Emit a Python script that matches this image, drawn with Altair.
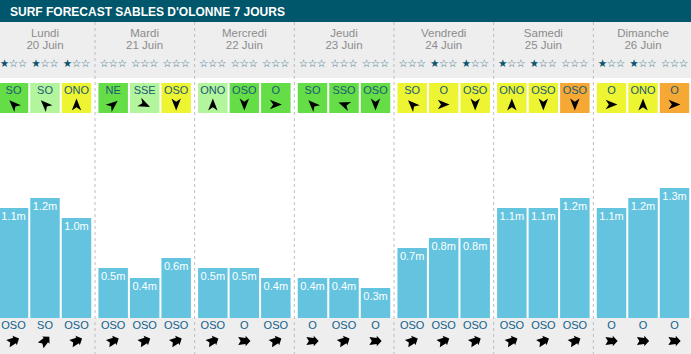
import altair as alt
import pandas as pd

# ---------------- data ----------------
title = "SURF FORECAST SABLES D'OLONNE 7 JOURS"
days = ["Lundi", "Mardi", "Mercredi", "Jeudi", "Vendredi", "Samedi", "Dimanche"]
dates = ["20 Juin", "21 Juin", "22 Juin", "23 Juin", "24 Juin", "25 Juin", "26 Juin"]

heights = [1.1, 1.2, 1.0, 0.5, 0.4, 0.6, 0.5, 0.5, 0.4, 0.4, 0.4, 0.3,
           0.7, 0.8, 0.8, 1.1, 1.1, 1.2, 1.1, 1.2, 1.3]
swell_dir = ["OSO", "SO", "OSO", "OSO", "OSO", "OSO", "OSO", "O", "OSO",
             "O", "OSO", "O", "OSO", "OSO", "OSO", "OSO", "OSO", "OSO", "O", "O", "O"]
wind_dir = ["SO", "SO", "ONO", "NE", "SSE", "OSO", "ONO", "OSO", "O",
            "SO", "SSO", "OSO", "SO", "O", "OSO", "ONO", "OSO", "OSO", "O", "ONO", "O"]
wind_level = ["fort", "moyen", "faible", "fort", "moyen", "faible", "moyen", "fort", "fort",
              "fort", "fort", "fort", "faible", "faible", "faible", "faible", "faible", "mauvais",
              "faible", "faible", "mauvais"]
stars = [1, 1, 1, 0, 0, 0, 0, 0, 0, 0, 0, 0, 0, 1, 1, 1, 1, 0, 1, 1, 0]

# ---------------- styling / layout ----------------
W, H = 691, 354
DAY_STEP, SLOT_STEP, FIRST = 99.67, 31.5, 13.5
FONT = "Liberation Sans"
level_colors = {"fort": "#64dd46", "moyen": "#b3f59d", "faible": "#edf533", "mauvais": "#f5a833"}
# arrow rotation (clockwise, arrow glyph initially pointing right)
wind_angle = {"O": 0, "OSO": 90, "ONO": 270, "SO": 225, "SSO": 200, "NE": 320, "SSE": 25}
swell_angle = {"O": 0, "OSO": 335, "SO": 315}

WIND_ARROW = "M 1 0 L -1 -0.8 L -0.45 0 L -1 0.8 Z"
SWELL_ARROW = "M 1 0 L 0.2 -0.85 L 0.2 -0.5 L -1 -0.65 L -0.6 0 L -1 0.65 L 0.2 0.5 L 0.2 0.85 Z"

rows = []
for i in range(21):
    d, k = divmod(i, 3)
    rows.append(dict(
        px=FIRST + DAY_STEP * d + SLOT_STEP * k,
        h=heights[i], base=0.0, label=f"{heights[i]:.1f}m",
        swell=swell_dir[i], sang=swell_angle[swell_dir[i]],
        wind=wind_dir[i], wang=wind_angle[wind_dir[i]],
        level=wind_level[i], color=level_colors[wind_level[i]],
    ))
slots = pd.DataFrame(rows)
slots["x1"] = slots["px"] - 14.75
slots["x2"] = slots["px"] + 14.75

star_rows = []
for i in range(21):
    d, k = divmod(i, 3)
    c = FIRST + DAY_STEP * d + SLOT_STEP * k
    for j in range(3):
        filled = j < stars[i]
        star_rows.append(dict(px=c + (j - 1) * 9, g="★" if filled else "☆",
                              col="#0b5570" if filled else "#2f6d86"))
star_df = pd.DataFrame(star_rows)

day_df = pd.DataFrame(dict(px=[FIRST + SLOT_STEP + DAY_STEP * d for d in range(7)],
                           day=days, date=dates))
sep_df = pd.DataFrame(dict(px=[95 + DAY_STEP * (d - 1) for d in range(1, 7)]))
one = pd.DataFrame({"a": [0]})

xscale = alt.Scale(domain=[0, W], nice=False, zero=False, padding=0)
yscale = alt.Scale(domain=[-0.36, 3.18], nice=False, zero=False, padding=0)


def X(f="px"):
    return alt.X(f"{f}:Q", scale=xscale, axis=None)


title_bar = alt.Chart(one).mark_rect(color="#00566b").encode(
    x=alt.value(0), x2=alt.value(W), y=alt.value(0), y2=alt.value(22))
title_txt = alt.Chart(one).mark_text(
    text=title, color="white", font=FONT, fontSize=12, fontWeight="bold",
    align="left", baseline="middle").encode(x=alt.value(10), y=alt.value(11.5))
head_band = alt.Chart(one).mark_rect(color="#eeeeee").encode(
    x=alt.value(0), x2=alt.value(W), y=alt.value(22), y2=alt.value(78))
foot_band = alt.Chart(one).mark_rect(color="#eeeeee").encode(
    x=alt.value(0), x2=alt.value(W), y=alt.value(318), y2=alt.value(H))
seps = alt.Chart(sep_df).mark_rule(color="#bdbdbd", strokeDash=[3, 3], strokeWidth=1).encode(
    x=X(), y=alt.value(22), y2=alt.value(H))

day_txt = alt.Chart(day_df).mark_text(font=FONT, fontSize=11.5, color="#8c8c8c",
                                      baseline="middle").encode(
    x=X(), y=alt.value(34), text="day:N")
date_txt = alt.Chart(day_df).mark_text(font=FONT, fontSize=11.5, color="#8c8c8c",
                                       baseline="middle").encode(
    x=X(), y=alt.value(46), text="date:N")

star_txt = alt.Chart(star_df).mark_text(font="DejaVu Sans", fontSize=10.6,
                                        baseline="middle").encode(
    x=X(), y=alt.value(64), text="g:N", color=alt.Color("col:N", scale=None))

wind_box = alt.Chart(slots).mark_rect().encode(
    x=X("x1"), x2="x2:Q", y=alt.value(83), y2=alt.value(113),
    color=alt.Color("color:N", scale=None))
wind_txt = alt.Chart(slots).mark_text(font=FONT, fontSize=11, color="#1b5a74",
                                      baseline="middle").encode(
    x=X(), y=alt.value(91), text="wind:N")
wind_arr = alt.Chart(slots).mark_point(shape=WIND_ARROW, filled=True, fill="black",
                                       strokeWidth=0, opacity=1, size=140).encode(
    x=X(), y=alt.value(104.5), angle=alt.Angle("wang:Q", scale=None))

bars = alt.Chart(slots).mark_bar(color="#64c4df").encode(
    x=X(), y=alt.Y("h:Q", scale=yscale, axis=None), y2="base:Q",
    size=alt.value(29.5))
bar_txt = alt.Chart(slots).mark_text(font=FONT, fontSize=11, color="white",
                                     baseline="middle", dy=9).encode(
    x=X(), y=alt.Y("h:Q", scale=yscale, axis=None), text="label:N")

swell_txt = alt.Chart(slots).mark_text(font=FONT, fontSize=11, color="#11608a",
                                       baseline="middle").encode(
    x=X(), y=alt.value(326), text="swell:N")
swell_arr = alt.Chart(slots).mark_point(shape=SWELL_ARROW, filled=True, fill="black",
                                        strokeWidth=0, opacity=1, size=150).encode(
    x=X(), y=alt.value(341), angle=alt.Angle("sang:Q", scale=None))

chart = alt.layer(
    head_band, foot_band, seps, title_bar, title_txt, day_txt, date_txt, star_txt,
    wind_box, wind_txt, wind_arr, bars, bar_txt, swell_txt, swell_arr
).properties(
    width=W, height=H, autosize=alt.AutoSizeParams(type="none"), padding=0,
    background="white"
).configure_view(stroke=None)

chart.save("out.html", embed_options={"renderer": "svg", "actions": False})
